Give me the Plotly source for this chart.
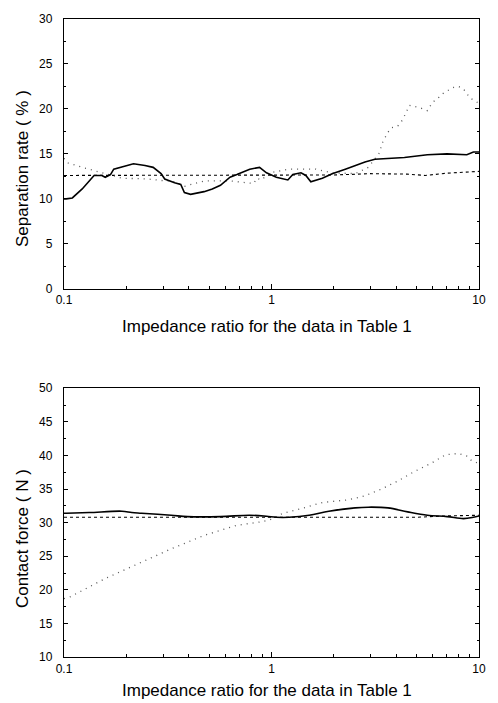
import plotly.graph_objects as go

# ---------------- data ----------------
# Top panel: separation rate (%)
sep_solid_x = [0.1, 0.1024, 0.1097, 0.1224, 0.1396, 0.1523, 0.158, 0.1675, 0.1737, 0.1974,
               0.2162, 0.2457, 0.269, 0.2936, 0.3058, 0.3411, 0.3653, 0.3804, 0.4075, 0.4733,
               0.5184, 0.5675, 0.6312, 0.6812, 0.7855, 0.876, 0.9458, 1.055, 1.199, 1.267,
               1.387, 1.464, 1.547, 1.758, 1.961, 2.268, 2.822, 3.149, 4.371, 5.639,
               7.018, 8.734, 9.396, 10]
sep_solid_y = [10.0, 10.0, 10.1, 11.1, 12.6, 12.6, 12.4, 12.7, 13.3, 13.7,
               13.9, 13.7, 13.5, 12.8, 12.2, 11.8, 11.6, 10.7, 10.5, 10.8,
               11.1, 11.5, 12.4, 12.7, 13.3, 13.5, 12.9, 12.4, 12.1, 12.7,
               12.9, 12.6, 11.9, 12.3, 12.8, 13.3, 14.1, 14.4, 14.6, 14.9,
               15.0, 14.9, 15.2, 15.2]

sep_dot_x = [0.1, 0.1039, 0.1147, 0.1224, 0.1902, 0.2547, 0.3067, 0.3286, 0.3817, 0.4749,
             0.6312, 0.8206, 0.8479, 0.8954, 0.9806, 1.216, 1.634, 1.961, 2.53, 2.927,
             3.289, 3.448, 3.641, 3.779, 4.062, 4.291, 4.617, 5.246, 5.639, 5.955,
             6.409, 6.769, 7.551, 7.975, 8.424, 9.066, 9.572, 10]
sep_dot_y = [14.5, 14.0, 13.7, 13.5, 12.3, 12.2, 12.0, 12.0, 11.4, 12.0,
             12.0, 11.7, 12.3, 12.1, 12.9, 13.3, 13.3, 12.9, 12.8, 13.5,
             15.0, 16.4, 17.4, 17.9, 18.1, 18.8, 20.4, 20.1, 19.8, 20.7,
             21.3, 21.8, 22.4, 22.5, 22.2, 21.2, 20.9, 20.6]

sep_dash_x = [0.1, 0.5, 1, 2, 3, 4.5, 5.5, 7, 10]
sep_dash_y = [12.6, 12.6, 12.6, 12.65, 12.8, 12.75, 12.6, 12.85, 13.05]

# Bottom panel: contact force (N)
force_solid_x = [0.1, 0.1024, 0.1322, 0.1902, 0.2122, 0.2367, 0.3286, 0.3944, 0.5675, 0.7855,
                 0.9458, 1.055, 1.216, 1.519, 1.89, 2.53, 2.927, 3.641, 4.532, 5.639,
                 7.018, 8.424, 9.396, 10]
force_solid_y = [31.4, 31.4, 31.5, 31.7, 31.5, 31.4, 31.1, 30.9, 30.9, 31.1,
                 30.95, 30.8, 30.8, 31.1, 31.7, 32.2, 32.3, 32.2, 31.6, 31.1,
                 30.9, 30.6, 30.8, 31.0]

force_dot_x = [0.1, 0.1062, 0.1586, 0.2284, 0.3286, 0.4733, 0.6812, 0.879, 0.9806, 1.135,
               1.361, 1.758, 2.351, 2.822, 3.388, 4.062, 4.876, 5.852, 6.897, 7.975,
               8.734, 9.224, 10]
force_dot_y = [18.7, 18.9, 21.7, 23.9, 26.1, 28.1, 29.6, 30.1, 30.4, 31.4,
               32.0, 33.0, 33.4, 34.0, 35.0, 36.2, 37.6, 38.8, 40.1, 40.3,
               39.9, 39.2, 38.8]

force_dash_x = [0.1, 1, 3, 5, 7, 10]
force_dash_y = [30.8, 30.8, 30.8, 30.8, 31.0, 31.1]

x_tickvals = [0.1, 1, 10]
x_ticktext = ["0.1", "1", "10"]
x_minor = [0.2, 0.3, 0.4, 0.5, 0.6, 0.7, 0.8, 0.9, 2, 3, 4, 5, 6, 7, 8, 9]
sep_ticks = [0, 5, 10, 15, 20, 25, 30]
force_ticks = [10, 15, 20, 25, 30, 35, 40, 45, 50]

x_title = "Impedance ratio for the data in Table 1"
sep_title = "Separation rate ( % )"
force_title = "Contact force ( N )"

# ---------------- figure ----------------
FONT = "Arial, Liberation Sans, sans-serif"
solid = dict(color="black", width=1.6)
dashed = dict(color="black", width=1.1, dash="3px,3px")
dotted = dict(color="#555555", width=1.3, dash="1px,5px")

fig = go.Figure()
# top
fig.add_trace(go.Scatter(x=sep_dash_x, y=sep_dash_y, mode="lines", line=dashed, xaxis="x", yaxis="y"))
fig.add_trace(go.Scatter(x=sep_dot_x, y=sep_dot_y, mode="lines", line=dotted, xaxis="x", yaxis="y"))
fig.add_trace(go.Scatter(x=sep_solid_x, y=sep_solid_y, mode="lines", line=solid, xaxis="x", yaxis="y"))
# bottom
fig.add_trace(go.Scatter(x=force_dash_x, y=force_dash_y, mode="lines", line=dashed, xaxis="x2", yaxis="y2"))
fig.add_trace(go.Scatter(x=force_dot_x, y=force_dot_y, mode="lines", line=dotted, xaxis="x2", yaxis="y2"))
fig.add_trace(go.Scatter(x=force_solid_x, y=force_solid_y, mode="lines",
                         line=dict(color="black", width=1.6, shape="spline"), xaxis="x2", yaxis="y2"))

tickfont = dict(family=FONT, size=12, color="black")

def xaxis_cfg(anchor):
    return dict(type="log", range=[-1, 1], anchor=anchor,
                tickvals=x_tickvals, ticktext=x_ticktext,
                ticks="inside", ticklen=5, tickwidth=1, tickcolor="black",
                minor=dict(tickvals=x_minor, ticks="inside", ticklen=3, tickcolor="black", tickwidth=1),
                showline=True, linecolor="black", linewidth=1.3, mirror=True,
                showgrid=False, zeroline=False, tickfont=tickfont)

def yaxis_cfg(anchor, domain, rng, ticks, step):
    return dict(domain=domain, anchor=anchor, range=rng,
                tickvals=ticks, ticks="inside", ticklen=4, tickwidth=1, tickcolor="black",
                minor=dict(dtick=step / 2, tick0=rng[0], ticks="inside", ticklen=2,
                           tickcolor="black", tickwidth=1),
                showline=True, linecolor="black", linewidth=1.3, mirror="ticks",
                showgrid=False, zeroline=False, tickfont=tickfont, ticklabelstandoff=8)

fig.update_layout(
    width=498, height=703,
    margin=dict(l=64, r=12, t=16, b=46),
    paper_bgcolor="white", plot_bgcolor="white",
    showlegend=False,
    xaxis=xaxis_cfg("y"),
    yaxis=yaxis_cfg("x", [0.5772, 1.0], [0, 30], sep_ticks, 5),
    xaxis2=xaxis_cfg("y2"),
    yaxis2=yaxis_cfg("x2", [0.0, 0.4212], [10, 50], force_ticks, 5),
)

title_font = dict(family=FONT, size=17, color="black")
fig.add_annotation(text=x_title, xref="paper", yref="paper", x=0.488, y=0.518,
                   xanchor="center", yanchor="middle", showarrow=False, font=title_font)
fig.add_annotation(text=x_title, xref="paper", yref="paper", x=0.488, y=-0.053,
                   xanchor="center", yanchor="middle", showarrow=False, font=title_font)
fig.add_annotation(text=sep_title, xref="paper", yref="paper", x=-0.0995, y=0.766,
                   xanchor="center", yanchor="middle", textangle=-90, showarrow=False, font=title_font)
fig.add_annotation(text=force_title, xref="paper", yref="paper", x=-0.0995, y=0.186,
                   xanchor="center", yanchor="middle", textangle=-90, showarrow=False, font=title_font)

fig.write_html("out.html",
               config={"displayModeBar": False},
               post_script="document.body.style.margin='0';document.body.style.padding='0';"
                           "document.body.style.overflow='hidden';")
